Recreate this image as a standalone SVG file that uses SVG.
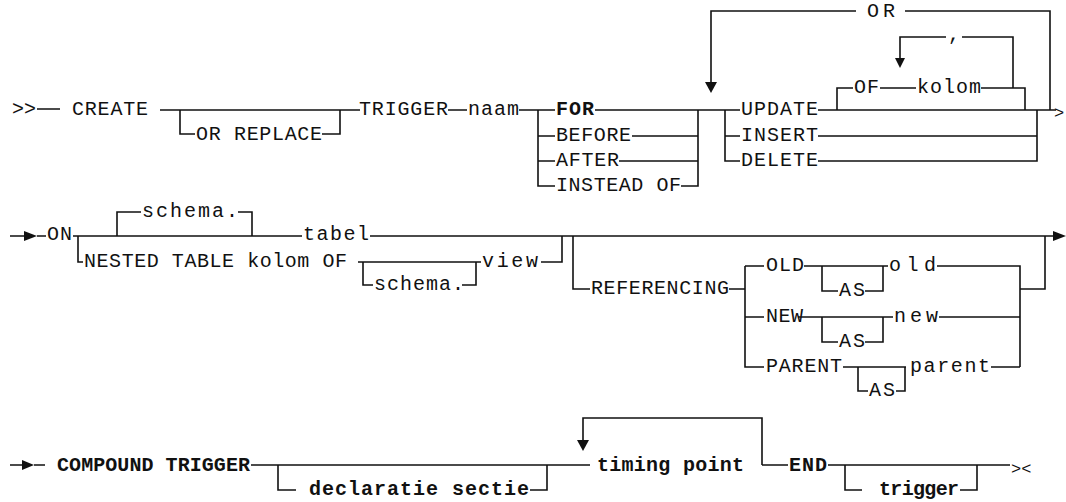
<svg xmlns="http://www.w3.org/2000/svg" width="1066" height="502" viewBox="0 0 1066 502">
<style>
.t{font-family:"Liberation Mono","DejaVu Sans Mono",monospace;font-size:20px;fill:#111}
.b{font-weight:bold}
.c{fill:none;stroke:#111;stroke-width:1.6}
.a{fill:#111;stroke:none}
</style>
<rect width="1066" height="502" fill="#fff"/>
<g id="connectors">
<path class="c" d="M37,109 H60 M160,110 H360 M180,110 V134 H195 M322,134 H340 V110 M448,110 H467 M519,110 H555 M538,110 V186 H555 M538,136 H555 M538,161 H555 M595,110 H740 M632,136 H698 M619,161 H698 M681,186 H698 V110 M725,110 V161 H740 M725,136 H740 M818,110 H1056 M818,136 H1037 M818,161 H1037 V110 M837,110 V88 H853 M880,88 H916 M981,88 H1025 V110 M1013,88 V37 H962 M946,37 H900 V58 M1050,110 V11 H905 M856,11 H711 V82"/>
<polygon class="a" points="895,58 905,58 900,68"/>
<polygon class="a" points="705,82 717,82 711,93"/>
<path class="c" d="M10,236 H24 M37,236 H46 M73,236 H302 M78,236 V262 H83 M117,236 V212 H141 M238,212 H252 V236 M370,236 H1053 M358,262 H481 M363,262 V285 H373 M462,285 H476 V262 M541,262 H562 V236 M573,236 V289 H590 M729,289 H745 M745,266 V367 H764 M745,266 H764 M745,317 H764 M804,266 H888 M822,266 V291 H838 M865,291 H883 V266 M937,266 H1020 V367 M1020,289 H1045 V236 M798,317 H893 M822,317 V342 H838 M865,342 H883 V317 M939,317 H1020 M843,367 H906 M858,367 V391 H868 M896,391 H905 V367 M991,367 H1020"/>
<polygon class="a" points="24,231 24,241 37,236"/>
<polygon class="a" points="1053,231 1053,241 1066,236"/>
<path class="c" d="M10,465 H22 M34,465 H45 M251,465 H590 M278,465 V490 H296 M530,490 H547 V465 M762,465 V418 H583 V440 M762,465 H788 M828,465 H1010 M845,465 V490 H862 M960,490 H977 V465"/>
<polygon class="a" points="22,460 22,470 34,465"/>
<polygon class="a" points="577,440 589,440 583,451"/>
</g>
<g id="start1"><text class="t" x="12" y="115">&gt;&gt;</text></g>
<g id="create"><text class="t" x="72" y="115" textLength="76" lengthAdjust="spacing">CREATE</text></g>
<g id="orreplace"><text class="t" x="196" y="140" textLength="126" lengthAdjust="spacing">OR REPLACE</text></g>
<g id="trigger"><text class="t" x="359" y="115" textLength="89" lengthAdjust="spacing">TRIGGER</text></g>
<g id="naam"><text class="t" x="468" y="115" textLength="51" lengthAdjust="spacing">naam</text></g>
<g id="for"><text class="t b" x="556" y="115" textLength="38" lengthAdjust="spacing">FOR</text></g>
<g id="before"><text class="t" x="556" y="141" textLength="75" lengthAdjust="spacing">BEFORE</text></g>
<g id="after"><text class="t" x="556" y="166" textLength="63" lengthAdjust="spacing">AFTER</text></g>
<g id="insteadof"><text class="t" x="556" y="191" textLength="125" lengthAdjust="spacing">INSTEAD OF</text></g>
<g id="update"><text class="t" x="741" y="115" textLength="77" lengthAdjust="spacing">UPDATE</text></g>
<g id="insert"><text class="t" x="741" y="141" textLength="77" lengthAdjust="spacing">INSERT</text></g>
<g id="delete"><text class="t" x="741" y="166" textLength="77" lengthAdjust="spacing">DELETE</text></g>
<g id="of"><text class="t" x="854" y="93" textLength="25" lengthAdjust="spacing">OF</text></g>
<g id="kolom"><text class="t" x="917" y="93" textLength="64" lengthAdjust="spacing">kolom</text></g>
<g id="comma"><text class="t" x="948" y="40">,</text></g>
<g id="or"><text class="t" x="867" y="17" textLength="28" lengthAdjust="spacing">OR</text></g>
<g id="end1"><text class="t" x="1054" y="118" style="font-size:17px">&gt;</text></g>
<g id="on"><text class="t" x="47" y="240" textLength="25" lengthAdjust="spacing">ON</text></g>
<g id="schema1"><text class="t" x="142" y="217" textLength="96" lengthAdjust="spacing">schema.</text></g>
<g id="tabel"><text class="t" x="303" y="240" textLength="66" lengthAdjust="spacing">tabel</text></g>
<g id="nested"><text class="t" x="84" y="267" textLength="263" lengthAdjust="spacing">NESTED TABLE kolom OF</text></g>
<g id="schema2"><text class="t" x="374" y="290" textLength="90" lengthAdjust="spacing">schema.</text></g>
<g id="view"><text class="t" x="482" y="267" textLength="56" lengthAdjust="spacing">view</text></g>
<g id="referencing"><text class="t" x="591" y="294" textLength="138" lengthAdjust="spacing">REFERENCING</text></g>
<g id="oldkw"><text class="t" x="766" y="271" textLength="38" lengthAdjust="spacing">OLD</text></g>
<g id="as1"><text class="t" x="839" y="296" textLength="26" lengthAdjust="spacing">AS</text></g>
<g id="old"><text class="t" x="889" y="271" textLength="47" lengthAdjust="spacing">old</text></g>
<g id="newkw"><text class="t" x="766" y="322" textLength="37" lengthAdjust="spacing">NEW</text></g>
<g id="as2"><text class="t" x="839" y="347" textLength="26" lengthAdjust="spacing">AS</text></g>
<g id="new"><text class="t" x="894" y="322" textLength="44" lengthAdjust="spacing">new</text></g>
<g id="parentkw"><text class="t" x="766" y="372" textLength="76" lengthAdjust="spacing">PARENT</text></g>
<g id="as3"><text class="t" x="869" y="396" textLength="26" lengthAdjust="spacing">AS</text></g>
<g id="parent"><text class="t" x="910" y="372" textLength="80" lengthAdjust="spacing">parent</text></g>
<g id="compound"><text class="t b" x="57" y="471" textLength="193" lengthAdjust="spacing">COMPOUND TRIGGER</text></g>
<g id="declaratie"><text class="t b" x="309" y="495" textLength="220" lengthAdjust="spacing">declaratie sectie</text></g>
<g id="timing"><text class="t b" x="597" y="471" textLength="147" lengthAdjust="spacing">timing point</text></g>
<g id="end"><text class="t b" x="789" y="471" textLength="38" lengthAdjust="spacing">END</text></g>
<g id="trigname"><text class="t b" x="879" y="495" textLength="80" lengthAdjust="spacing">trigger</text></g>
<g id="end3"><text class="t" x="1011" y="474" style="font-size:17px">&gt;&lt;</text></g>
</svg>
